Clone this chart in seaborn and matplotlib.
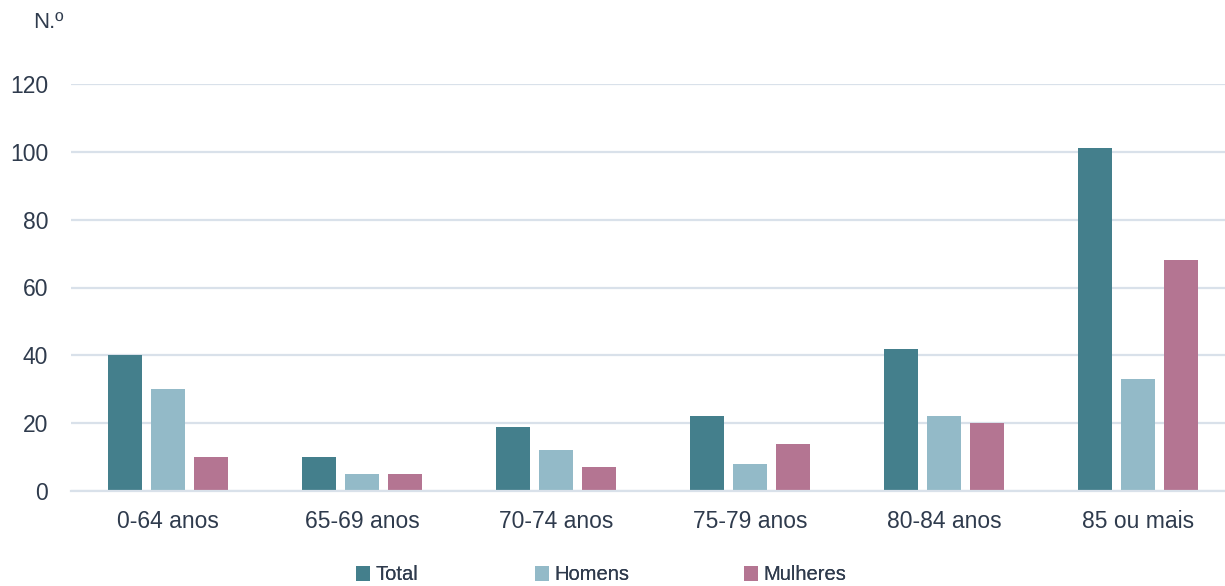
import matplotlib
matplotlib.use("Agg")
import matplotlib.pyplot as plt
from matplotlib.patches import Patch
from matplotlib import font_manager
import seaborn as sns
import pandas as pd

categories = ["0-64 anos", "65-69 anos", "70-74 anos", "75-79 anos", "80-84 anos", "85 ou mais"]
series_names = ["Total", "Homens", "Mulheres"]
total = [40, 10, 19, 22, 42, 101]
homens = [30, 5, 12, 8, 22, 33]
mulheres = [10, 5, 7, 14, 20, 68]
yticks = [0, 20, 40, 60, 80, 100, 120]
colors = ["#447F8C", "#93BAC8", "#B47592"]
text_color = "#2F3B4D"
grid_color = "#D9E1EA"

rows = []
for name, vals in zip(series_names, [total, homens, mulheres]):
    for c, v in zip(categories, vals):
        rows.append({"cat": c, "serie": name, "val": v})
df = pd.DataFrame(rows)

sns.set_theme(style="white")
plt.rcParams["font.family"] = ["Liberation Sans", "DejaVu Sans"]

names = {f.name for f in font_manager.fontManager.ttflist}
if "Liberation Sans Narrow" in names:
    legend_family = ["Liberation Sans Narrow", "Liberation Sans"]
    legend_size = 16.5
else:
    legend_family = ["Liberation Sans", "DejaVu Sans"]
    legend_size = 14.5

W, H = 1225, 586
fig = plt.figure(figsize=(W / 100, H / 100), dpi=100)
ax = fig.add_axes([71 / W, 1 - 491 / H, 1164 / W, (491 - 84) / H])

sns.barplot(data=df, x="cat", y="val", hue="serie", order=categories,
            hue_order=series_names, palette=colors, saturation=1,
            width=0.665, gap=0.21, ax=ax, legend=False, linewidth=0)

ax.set_ylim(0, 120)
ax.set_xlim(-0.5, 5.5)
ax.set_yticks(yticks)
ax.set_yticklabels([str(t) for t in yticks])
ax.set_xlabel("")
ax.set_ylabel("")
ax.grid(axis="y", color=grid_color, linewidth=1.6)
ax.grid(axis="x", visible=False)
ax.set_axisbelow(True)
for s in ["top", "right", "left"]:
    ax.spines[s].set_visible(False)
ax.spines["bottom"].set_color(grid_color)
ax.spines["bottom"].set_linewidth(1.6)
ax.tick_params(axis="y", length=0, pad=16.5, labelsize=16.5, labelcolor=text_color)
ax.tick_params(axis="x", length=0, pad=14, labelsize=16.5, labelcolor=text_color)

fig.text(33 / W, 1 - 22 / H, "N.º", ha="left", va="center",
         fontsize=16, color=text_color)

legend_x = [356, 535, 744]
for name, col, lx in zip(series_names, colors, legend_x):
    leg = fig.legend(handles=[Patch(facecolor=col, edgecolor="none", label=name)],
                     loc="center left", bbox_to_anchor=(lx / W, 1 - 575 / H),
                     frameon=False, prop={"family": legend_family, "size": legend_size},
                     handlelength=0.7, handleheight=0.7,
                     handletextpad=0.25, borderpad=0, borderaxespad=0,
                     labelcolor=text_color)
    fig.add_artist(leg)

fig.savefig("out.png", dpi=100)
